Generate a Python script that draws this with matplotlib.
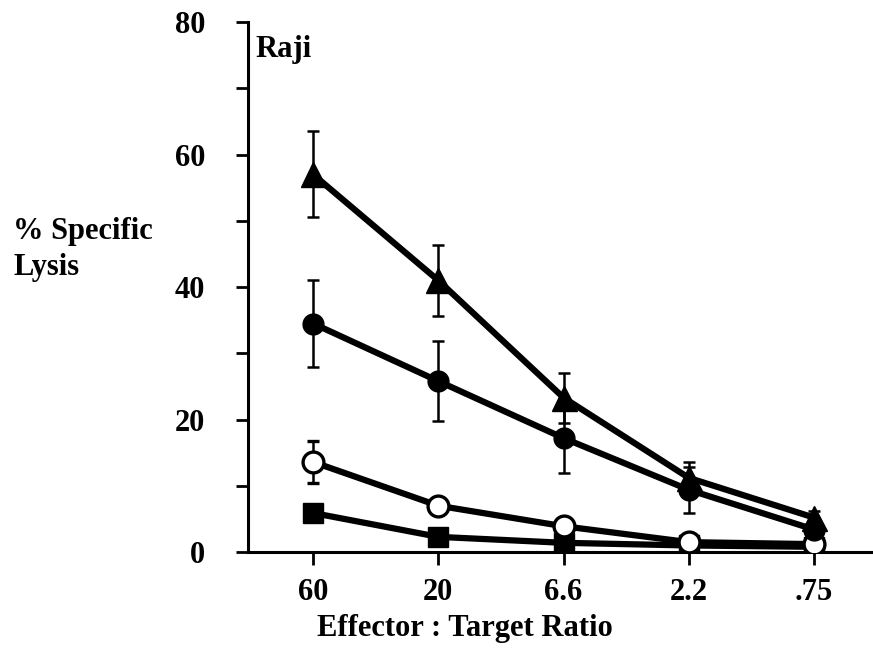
import numpy as np
import matplotlib
matplotlib.use("Agg")
import matplotlib.pyplot as plt

# data
ratios = ["60", "20", "6.6", "2.2", ".75"]
tri_vals = [57.0, 41.0, 23.3, 11.2, 5.2]
tri_err = [6.5, 5.4, 3.8, 2.4, 1.0]
fcirc_vals = [34.5, 25.8, 17.2, 9.4, 3.4]
fcirc_err = [6.5, 6.0, 5.3, 3.5, 0.8]
ocirc_vals = [13.6, 7.0, 3.9, 1.5, 1.2]
ocirc_err = [3.2, 1.2, 0.5, 0.3, 0.3]
sq_vals = [5.9, 2.3, 1.4, 1.0, 0.8]

yticks = [0, 20, 40, 60, 80]

plt.rcParams['font.family'] = ['Liberation Serif', 'DejaVu Serif']
plt.rcParams['font.weight'] = 'bold'

fig = plt.figure(figsize=(8.73, 6.48), dpi=100)
ax = fig.add_axes([0.284, 0.148, 0.716, 0.818])

x = np.arange(len(ratios))
lw = 4.5
fs = 22

# lines drawn from lowest to highest series
ax.plot(x, sq_vals, color='black', lw=lw, marker='s', ms=14, zorder=3)
ax.errorbar(x, ocirc_vals, yerr=ocirc_err, color='black', lw=lw, marker='o', ms=15,
            mfc='white', mec='black', mew=2.4, ecolor='black', elinewidth=1.8,
            capsize=4, capthick=1.8, zorder=4)
ax.errorbar(x, fcirc_vals, yerr=fcirc_err, color='black', lw=lw, marker='o', ms=15,
            ecolor='black', elinewidth=1.8, capsize=4, capthick=1.8, zorder=5)
ax.errorbar(x, tri_vals, yerr=tri_err, color='black', lw=lw, marker='^', ms=18,
            ecolor='black', elinewidth=1.8, capsize=4, capthick=1.8, zorder=6)

ax.set_xlim(-0.52, 4.47)
ax.set_ylim(0, 80)
ax.set_xticks(x)
ax.set_xticklabels(ratios)
ax.set_yticks(np.arange(0, 81, 10))
ax.set_yticklabels([str(v) if v in yticks else "" for v in range(0, 81, 10)])

for s in ['top', 'right']:
    ax.spines[s].set_visible(False)
for s in ['left', 'bottom']:
    ax.spines[s].set_linewidth(2.2)

ax.tick_params(axis='both', direction='out', length=9, width=2, labelsize=fs)
ax.tick_params(axis='y', pad=22)
ax.tick_params(axis='x', pad=10)

ax.text(0.012, 0.975, "Raji", transform=ax.transAxes, fontsize=fs,
        fontweight='bold', va='top', ha='left')

fig.text(0.015, 0.615, "% Specific\nLysis", fontsize=fs, fontweight='bold',
         ha='left', va='center', linespacing=1.35)
fig.text(0.532, 0.03, "Effector : Target Ratio", fontsize=fs, fontweight='bold',
         ha='center', va='center')

plt.savefig("out.png", dpi=100)
